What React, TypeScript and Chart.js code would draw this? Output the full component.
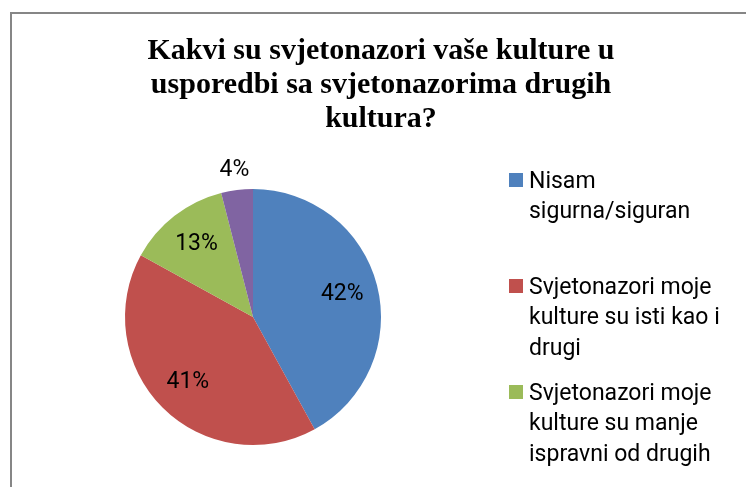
import React, { useEffect, useRef } from "react";
import { Chart, registerables } from "chart.js";
Chart.register(...registerables);

const titleLines = ["Kakvi su svjetonazori vaše kulture u", "usporedbi sa svjetonazorima drugih", "kultura?"];
const categories = [
  "Nisam sigurna/siguran",
  "Svjetonazori moje kulture su isti kao i drugi",
  "Svjetonazori moje kulture su manje ispravni od drugih",
  "Svjetonazori moje kulture su ispravniji od drugih",
];
const values = [42, 41, 13, 4];
const colors = ["#4F81BD", "#C0504D", "#9BBB59", "#8064A2"];

const W = 746;
const H = 487;
const LABEL_FONT = "23px Roboto";
const TITLE_FONT = "bold 30px 'Liberation Serif'";

function wrap(ctx: CanvasRenderingContext2D, text: string, maxW: number): string[] {
  const words = text.split(" ");
  const lines: string[] = [];
  let cur = "";
  for (const w of words) {
    const t = cur ? cur + " " + w : w;
    if (ctx.measureText(t).width > maxW && cur) {
      lines.push(cur);
      cur = w;
    } else cur = t;
  }
  if (cur) lines.push(cur);
  return lines;
}

const decor = {
  id: "decor",
  beforeDraw(chart: any) {
    const ctx = chart.ctx as CanvasRenderingContext2D;
    ctx.save();
    ctx.fillStyle = "#fff";
    ctx.fillRect(0, 0, W, H);
    ctx.strokeStyle = "#868686";
    ctx.lineWidth = 2;
    ctx.beginPath();
    ctx.moveTo(11, H + 5);
    ctx.lineTo(11, 13);
    ctx.lineTo(W + 5, 13);
    ctx.stroke();
    ctx.restore();
  },
  afterDraw(chart: any) {
    const ctx = chart.ctx as CanvasRenderingContext2D;
    ctx.save();
    // title
    ctx.fillStyle = "#000";
    ctx.font = TITLE_FONT;
    ctx.textAlign = "center";
    ctx.textBaseline = "alphabetic";
    titleLines.forEach((l, i) => ctx.fillText(l, 381, 59 + i * 34));
    // data labels
    const meta = chart.getDatasetMeta(0);
    const data = chart.data.datasets[0].data as number[];
    const total = data.reduce((a, b) => a + b, 0);
    ctx.font = LABEL_FONT;
    ctx.textBaseline = "middle";
    meta.data.forEach((arc: any, i: number) => {
      const p = arc.getProps(["x", "y", "startAngle", "endAngle", "outerRadius"], true);
      const mid = (p.startAngle + p.endAngle) / 2;
      const pct = (data[i] / total) * 100;
      const r = pct < 5 ? p.outerRadius + 20 : p.outerRadius * 0.72;
      ctx.fillText(Math.round(pct) + "%", p.x + Math.cos(mid) * r, p.y + Math.sin(mid) * r);
    });
    // legend
    ctx.textAlign = "left";
    (chart.data.labels as string[]).forEach((lab, i) => {
      const y0 = 182 + i * 106;
      ctx.fillStyle = colors[i];
      ctx.fillRect(509, y0 - 9, 14, 14);
      ctx.fillStyle = "#000";
      wrap(ctx, lab, 205).forEach((ln, j) => ctx.fillText(ln, 529, y0 + j * 30.5));
    });
    ctx.restore();
  },
};

export default function App() {
  const ref = useRef<HTMLCanvasElement>(null);
  useEffect(() => {
    const chart = new Chart(ref.current!, {
      type: "pie",
      data: {
        labels: categories,
        datasets: [{ data: values, backgroundColor: colors, borderWidth: 0 }],
      },
      options: {
        responsive: false,
        animation: false,
        layout: { padding: { left: 125, right: 365, top: 189, bottom: 42 } },
        plugins: { legend: { display: false }, title: { display: false }, tooltip: { enabled: false } },
      },
      plugins: [decor],
    });
    return () => chart.destroy();
  }, []);
  return (
    <div style={{ position: "fixed", left: 0, top: 0, width: W, height: H }}>
      <canvas ref={ref} width={W} height={H} />
    </div>
  );
}
